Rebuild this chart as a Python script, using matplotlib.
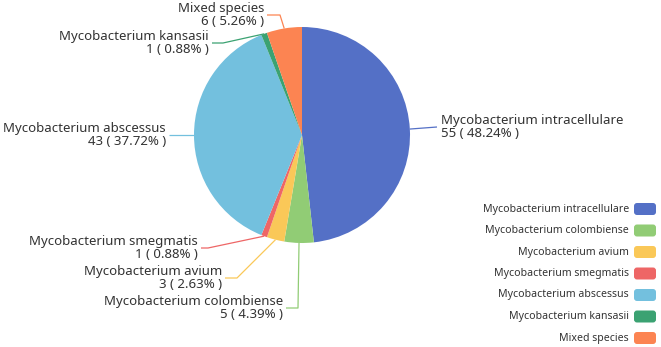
import matplotlib.pyplot as plt
import numpy as np
from matplotlib.patches import FancyBboxPatch

plt.rcParams['font.family'] = ['Noto Sans', 'DejaVu Sans']

species = ["Mycobacterium intracellulare", "Mycobacterium colombiense",
           "Mycobacterium avium", "Mycobacterium smegmatis",
           "Mycobacterium abscessus", "Mycobacterium kansasii", "Mixed species"]
counts = [55, 5, 3, 1, 43, 1, 6]
percents = ["48.24%", "4.39%", "2.63%", "0.88%", "37.72%", "0.88%", "5.26%"]
colors = ["#5470c6", "#91cc75", "#fac858", "#ee6666", "#73c0de", "#3ba272", "#fc8452"]

W, H = 661, 347
# label layout in pixels: bend point, end point, text anchor side
label_pos = [
    ((437, 127), (437, 127), 'left'),
    ((298, 308), (286, 308), 'right'),
    ((237, 278), (225, 278), 'right'),
    ((208, 248), (201, 248), 'right'),
    ((169, 135), (169, 135), 'right'),
    ((223, 43), (212, 43), 'right'),
    ((280, 15), (267, 15), 'right'),
]

fig = plt.figure(figsize=(W / 100, H / 100), dpi=100)
ax = fig.add_axes([0, 0, 1, 1])

cx, cy, r = 302, 135, 108
wedges, _ = ax.pie(counts, colors=colors, startangle=-90, counterclock=True,
                   center=(cx, cy), radius=r, frame=True,
                   wedgeprops=dict(linewidth=0))
ax.set_xlim(0, W)
ax.set_ylim(H, 0)
ax.axis('off')

for w, name, n, p, col, (bend, end, side) in zip(wedges, species, counts, percents, colors, label_pos):
    mid = np.deg2rad((w.theta1 + w.theta2) / 2)
    ex, ey = cx + r * np.cos(mid), cy + r * np.sin(mid)
    ax.plot([ex, bend[0], end[0]], [ey, bend[1], end[1]], color=col, lw=0.9,
            solid_capstyle='butt')
    tx = end[0] + 4 if side == 'left' else end[0] - 3
    ax.text(tx, end[1], f"{name}\n{n} ( {p} )", ha=side, va='center',
            fontsize=9.5, color='#333333', linespacing=1.0,
            multialignment=side)

# legend
for i, (name, col) in enumerate(zip(species, colors)):
    y = 209 + i * 21.5
    ax.add_patch(FancyBboxPatch((634, y - 6), 22, 12, boxstyle="round,pad=0,rounding_size=3",
                                fc=col, ec='none'))
    ax.text(629, y, name, ha='right', va='center', fontsize=7.6, color='#333333')

fig.savefig('out.png', dpi=100)
